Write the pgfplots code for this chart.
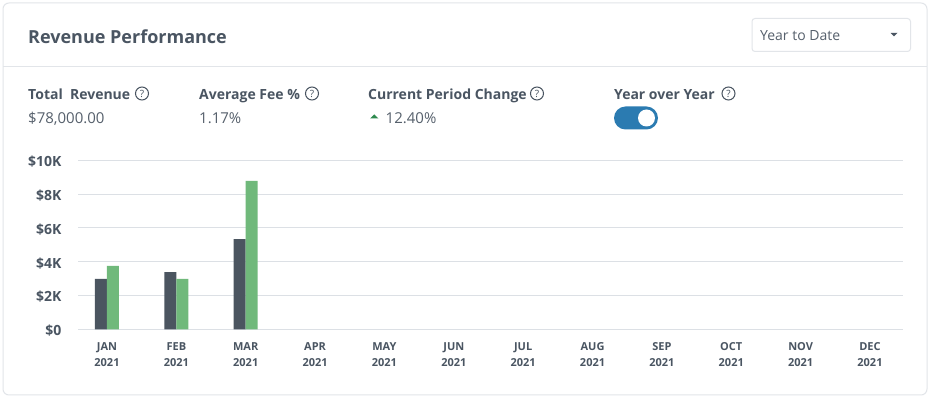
\documentclass[border=0pt]{standalone}
\usepackage{fontspec}
\setmainfont{Open Sans}
\usepackage{pgfplots}
\pgfplotsset{compat=1.18}
\definecolor{txt}{HTML}{4A5562}
\definecolor{txtl}{HTML}{56606C}
\definecolor{bardark}{HTML}{4B5560}
\definecolor{bargreen}{HTML}{70B97B}
\definecolor{gridc}{HTML}{DCE0E5}
\definecolor{cardb}{HTML}{E2E5E9}
\definecolor{togg}{HTML}{2B7BB1}
\definecolor{upg}{HTML}{2F8A4F}
\begin{document}
\begin{tikzpicture}
\useasboundingbox (0bp,0bp) rectangle (930bp,398bp);
\fill[white] (0bp,0bp) rectangle (930bp,398bp);
\begin{scope}[shift={(0bp,398bp)}, x=1bp, y=-1bp]
% card
\draw[cardb, line width=1bp, rounded corners=6bp] (3,3) rectangle (927,395);
\draw[cardb, line width=1bp] (3,67) -- (927,67);
% title
\node[anchor=base west, inner sep=0, text=txt, font=\fontsize{18bp}{20bp}\selectfont\bfseries] at (28,43.5) {Revenue Performance};
% dropdown
\draw[cardb, line width=1bp, rounded corners=3bp] (752,18.5) rectangle (910.5,51.5);
\node[anchor=base west, inner sep=0, text=txtl, font=\fontsize{14bp}{16bp}\selectfont] at (760,40.5) {Year to Date};
\fill[txt] (890.5,33) -- (897.5,33) -- (894,36.5) -- cycle;
% KPI labels
\tikzset{kl/.style={anchor=base west, inner sep=0, text=txt, font=\fontsize{14bp}{16bp}\selectfont\bfseries},
         kv/.style={anchor=base west, inner sep=0, text=txtl, font=\fontsize{15bp}{17bp}\selectfont},
         qm/.style={draw=txt, line width=1bp, circle, minimum size=13bp, inner sep=0, text=txt, font=\fontsize{10bp}{10bp}\selectfont}}
\node[kl] at (28,100) {Total\ \ Revenue};
\node[qm] at (142,93.5) {?};
\node[kl] at (199,100) {Average Fee \%};
\node[qm] at (312,93.5) {?};
\node[kl] at (368,100) {Current Period Change};
\node[qm] at (537,93.5) {?};
\node[kl] at (614,100) {Year over Year};
\node[qm] at (728.5,93.5) {?};
% values
\node[kv] at (28,124) {\$78,000.00};
\node[kv] at (199,124) {1.17\%};
\fill[upg] (370,118.5) -- (378.5,118.5) -- (374.25,114.5) -- cycle;
\node[kv] at (385.5,124) {12.40\%};
% toggle
\fill[togg, rounded corners=11.5bp] (614,106.5) rectangle (658,129.5);
\fill[white] (646.5,118) circle (8.5);
\end{scope}
% chart
\begin{axis}[
  at={(78bp,68.7bp)}, anchor=south west,
  scale only axis, width=825bp, height=169bp,
  xmin=-0.418, xmax=11.476, ymin=0, ymax=10000,
  scaled y ticks=false,
  axis line style={draw=none},
  ymajorgrids, grid style={gridc, line width=1bp},
  major tick length=0pt,
  ytick={0,2000,4000,6000,8000,10000},
  yticklabels={\$0,\$2K,\$4K,\$6K,\$8K,\$10K},
  yticklabel style={text=txt, font=\fontsize{14bp}{16bp}\selectfont\bfseries, anchor=east, xshift=-13bp, yshift=-1.5bp},
  xtick={0,1,2,3,4,5,6,7,8,9,10,11},
  xticklabels={{JAN\\2021},{FEB\\2021},{MAR\\2021},{APR\\2021},{MAY\\2021},{JUN\\2021},{JUL\\2021},{AUG\\2021},{SEP\\2021},{OCT\\2021},{NOV\\2021},{DEC\\2021}},
  xticklabel style={text=txt, align=center, font=\fontsize{11bp}{16bp}\selectfont\bfseries, anchor=north, yshift=-9.5bp},
  ybar, bar width=12bp,
  clip=false,
]
\addplot[draw=none, fill=bardark, bar shift=-6bp] coordinates {(0,2980) (1,3390) (2,5340)};
\addplot[draw=none, fill=bargreen, bar shift=6bp] coordinates {(0,3750) (1,2980) (2,8780)};
\end{axis}
\end{tikzpicture}
\end{document}
